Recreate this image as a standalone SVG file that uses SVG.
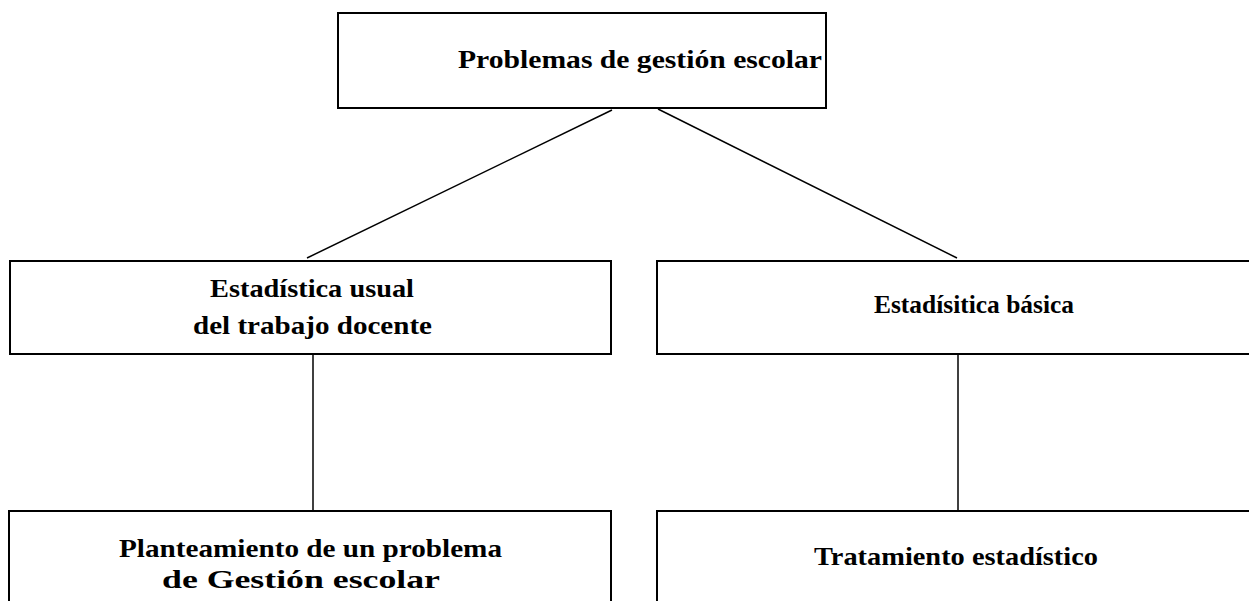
<svg xmlns="http://www.w3.org/2000/svg" width="1249" height="601" viewBox="0 0 1249 601">
<style>
.box{fill:#fff;stroke:#000;stroke-width:2}
.ln{stroke:#000;stroke-width:1.5;fill:none}
.t{font-family:"Liberation Serif",serif;font-weight:bold;font-size:25px;fill:#000}
</style>
<rect width="1249" height="601" fill="#fff"/>
<g id="connectors">
<line class="ln" x1="612" y1="110" x2="307" y2="258"/>
<line class="ln" x1="658" y1="109" x2="957" y2="258"/>
<line class="ln" x1="313" y1="355" x2="313" y2="511"/>
<line class="ln" x1="958" y1="355" x2="958" y2="511"/>
</g>
<g id="n-top">
<rect class="box" x="338" y="13" width="488" height="95"/>
<text class="t" x="458" y="68" textLength="364" lengthAdjust="spacingAndGlyphs">Problemas de gestión escolar</text>
</g>
<g id="n-left">
<rect class="box" x="10" y="261" width="601" height="93"/>
<text class="t" x="210" y="297" textLength="204" lengthAdjust="spacingAndGlyphs">Estadística usual</text>
<text class="t" x="193" y="334" textLength="239" lengthAdjust="spacingAndGlyphs">del trabajo docente</text>
</g>
<g id="n-right">
<rect class="box" x="657" y="261" width="600" height="93"/>
<text class="t" x="874" y="313" textLength="200" lengthAdjust="spacingAndGlyphs">Estadísitica básica</text>
</g>
<g id="n-bl">
<rect class="box" x="9" y="511" width="602" height="100"/>
<text class="t" x="119" y="557" textLength="383" lengthAdjust="spacingAndGlyphs">Planteamiento de un problema</text>
<text class="t" x="162" y="588" textLength="278" lengthAdjust="spacingAndGlyphs">de Gestión escolar</text>
</g>
<g id="n-br">
<rect class="box" x="657" y="511" width="600" height="100"/>
<text class="t" x="814" y="565" textLength="284" lengthAdjust="spacingAndGlyphs">Tratamiento estadístico</text>
</g>
</svg>
